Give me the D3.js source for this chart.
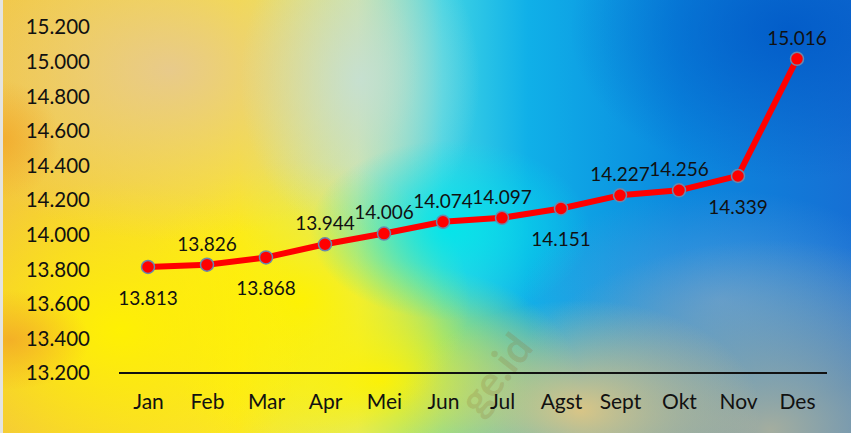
<!DOCTYPE html>
<html>
<head>
<meta charset="utf-8">
<script src="https://cdn.jsdelivr.net/npm/d3@7"></script>
<style>
  body { margin:0; padding:0; overflow:hidden; }
  svg text { font-family: Lato, "Open Sans", sans-serif; fill:#111; }
</style>
</head>
<body>
<div id="chart"></div>
<script>
// data for the chart
var months = ["Jan","Feb","Mar","Apr","Mei","Jun","Jul","Agst","Sept","Okt","Nov","Des"];
var values = [13813,13826,13868,13944,14006,14074,14097,14151,14227,14256,14339,15016];
var labelPos = ["below","above","below","above","above","above","above","below","above","above","below","above"];
var yTicks = [13200,13400,13600,13800,14000,14200,14400,14600,14800,15000,15200];

var W = 851, H = 433;
var svg = d3.select("#chart").append("svg").attr("width", W).attr("height", H);
var defs = svg.append("defs");

// background, built from layered gradients
var lg = defs.append("linearGradient").attr("id","bgBase").attr("x1","0").attr("x2","1").attr("y1","0").attr("y2","0");
[["0","#F4C83A"],["0.28","#FBE52A"],["0.42","#CFE6A0"],["0.52","#40D4E4"],["0.62","#10B0E8"],["0.8","#0A88DE"],["1","#1670D4"]]
  .forEach(function(s){ lg.append("stop").attr("offset",s[0]).attr("stop-color",s[1]); });

function radial(id, color, op){
  var g = defs.append("radialGradient").attr("id",id);
  g.append("stop").attr("offset","0").attr("stop-color",color).attr("stop-opacity",op);
  g.append("stop").attr("offset","1").attr("stop-color",color).attr("stop-opacity",0);
}
radial("gTan","#E6C895",0.9);
radial("gPale","#C4E0D8",0.85);
radial("gCyan","#00E6EA",0.9);
radial("gYel","#FFF200",0.95);
radial("gGray","#ACB09C",0.95);
radial("gLtBlue","#5A9CDA",0.8);
radial("gBlue","#0058C6",0.85);
radial("gOrange","#F2A628",0.8);
radial("gBotTan","#EAC97E",0.9);

svg.append("rect").attr("width",W).attr("height",H).attr("fill","url(#bgBase)");
var blobs = [
  {id:"gYel", cx:380, cy:380, rx:200, ry:120},
  {id:"gYel", cx:300, cy:300, rx:170, ry:140},
  {id:"gYel", cx:120, cy:330, rx:200, ry:150},
  {id:"gTan", cx:170, cy:70, rx:250, ry:170},
  {id:"gPale", cx:360, cy:80, rx:120, ry:160},
  {id:"gCyan", cx:450, cy:230, rx:140, ry:90},
  {id:"gLtBlue", cx:720, cy:300, rx:200, ry:110},
  {id:"gGray", cx:770, cy:430, rx:280, ry:190},
  {id:"gBotTan", cx:580, cy:410, rx:180, ry:110},
  {id:"gBlue", cx:790, cy:30, rx:220, ry:150},
  {id:"gOrange", cx:0, cy:140, rx:60, ry:60},
  {id:"gOrange", cx:10, cy:340, rx:80, ry:50}
];
svg.selectAll(".blob").data(blobs).enter().append("ellipse")
  .attr("class","blob")
  .attr("cx", function(d){ return d.cx; })
  .attr("cy", function(d){ return d.cy; })
  .attr("rx", function(d){ return d.rx; })
  .attr("ry", function(d){ return d.ry; })
  .attr("fill", function(d){ return "url(#" + d.id + ")"; });
svg.append("rect").attr("width",3).attr("height",H).attr("fill","#E4E4E0");

// watermark
svg.append("text").attr("transform","translate(480,418) rotate(-52)")
  .style("font-size","42px").style("font-weight","bold")
  .style("fill","rgba(140,105,40,0.2)").text("ge.id");

// scales
var x = d3.scalePoint().domain(months).range([148, 797]);
var y = d3.scaleLinear().domain([13200, 15200]).range([373, 27]);
var fmt = function(v){ return d3.format(".3f")(v/1000); };

// y labels (no axis line)
svg.selectAll(".ylab").data(yTicks).enter().append("text")
  .attr("class","ylab")
  .attr("x", 90).attr("y", function(d){ return y(d); })
  .attr("dy","0.36em").attr("text-anchor","end")
  .style("font-size","20.5px")
  .text(fmt);

// x axis
var xAxis = svg.append("g").attr("transform","translate(0,373)")
  .call(d3.axisBottom(x).tickSize(0).tickPadding(21));
xAxis.select(".domain").attr("d","M119,0H827").attr("stroke","#111").attr("stroke-width",2);
xAxis.selectAll("text").style("font-size","21px").style("font-family","Lato, sans-serif").attr("fill","#111");

// line
var line = d3.line().x(function(d,i){ return x(months[i]); }).y(function(d){ return y(d); });
svg.append("path").datum(values).attr("d", line)
  .attr("fill","none").attr("stroke","#FF0000").attr("stroke-width",6).attr("stroke-linejoin","round");

svg.selectAll(".dot").data(values).enter().append("circle")
  .attr("class","dot")
  .attr("cx", function(d,i){ return x(months[i]); })
  .attr("cy", function(d){ return y(d); })
  .attr("r", 6.5)
  .attr("fill","#FF0000").attr("stroke","#6A88AC").attr("stroke-width",1.5);

svg.selectAll(".vlab").data(values).enter().append("text")
  .attr("class","vlab")
  .attr("x", function(d,i){ return x(months[i]); })
  .attr("y", function(d,i){ return labelPos[i] === "above" ? y(d) - 21 : y(d) + 31; })
  .attr("dy","0.36em").attr("text-anchor","middle")
  .style("font-size","19px")
  .text(fmt);
</script>
</body>
</html>
